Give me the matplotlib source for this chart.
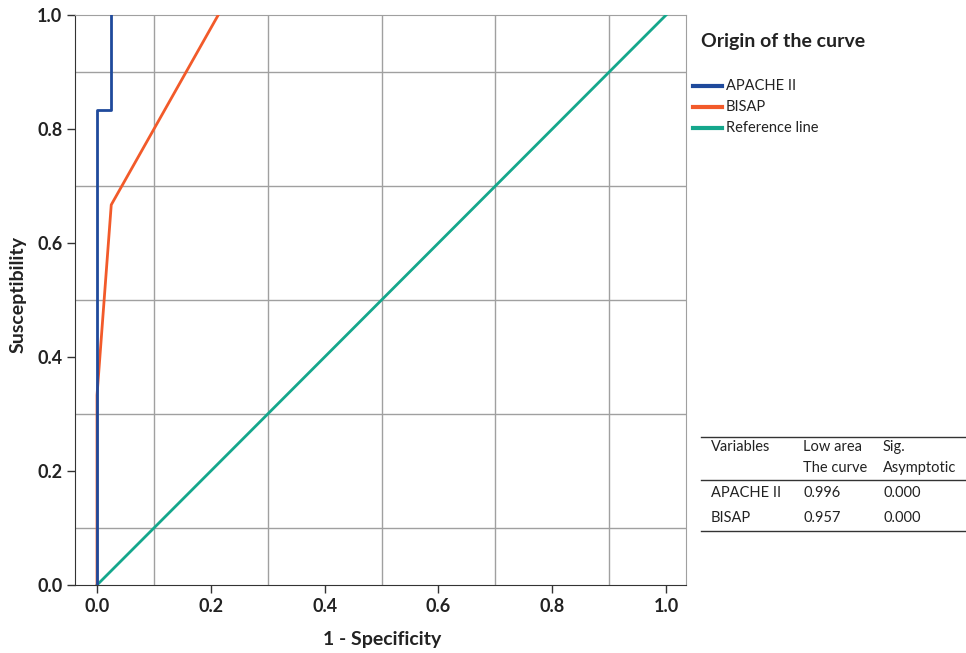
import numpy as np
import matplotlib.pyplot as plt
from matplotlib.lines import Line2D

plt.rcParams['font.family'] = ['Lato', 'DejaVu Sans']

# ROC curve data
apache_x = [0.0, 0.0, 0.025, 0.025]
apache_y = [0.0, 0.833, 0.833, 1.0]
bisap_x = [0.0, 0.0, 0.025, 0.213]
bisap_y = [0.0, 0.333, 0.667, 1.0]
ref_x = [0.0, 1.0]
ref_y = [0.0, 1.0]

legend_labels = ['APACHE II', 'BISAP', 'Reference line']
colors = ['#1f4a9c', '#f25a2a', '#15a78c']

table_header = [['Variables', 'Low area', 'Sig.'], ['', 'The curve', 'Asymptotic']]
table_rows = [['APACHE II', '0.996', '0.000'], ['BISAP', '0.957', '0.000']]

W, H = 966, 653
fig = plt.figure(figsize=(W / 100, H / 100), dpi=100)
ax = fig.add_axes([75 / W, 1 - 585 / H, (686 - 75) / W, (585 - 15) / H])

ax.plot(ref_x, ref_y, color=colors[2], lw=2, zorder=3)
ax.plot(bisap_x, bisap_y, color=colors[1], lw=2, zorder=4)
ax.plot(apache_x, apache_y, color=colors[0], lw=2, zorder=5)

ax.set_xlim(-0.0387, 1.035)
ax.set_ylim(0, 1)
ax.set_xticks(np.arange(0, 1.01, 0.2))
ax.set_yticks(np.arange(0, 1.01, 0.2))
ax.set_xticks(np.arange(0.1, 1.0, 0.2), minor=True)
ax.set_yticks(np.arange(0.1, 1.0, 0.2), minor=True)
ax.grid(which='minor', color='#a0a0a0', lw=1)
ax.tick_params(which='minor', length=0)
ax.tick_params(which='major', length=6, width=1, color='#333333', labelsize=13, pad=3)
for lab in ax.get_xticklabels() + ax.get_yticklabels():
    lab.set_fontweight('bold')
    lab.set_color('#222222')
ax.xaxis.set_major_formatter(plt.FuncFormatter(lambda v, p: f'{v:.1f}'))
ax.yaxis.set_major_formatter(plt.FuncFormatter(lambda v, p: f'{v:.1f}'))
ax.spines['left'].set_color('#333333')
ax.spines['bottom'].set_color('#333333')
ax.spines['top'].set_color('#a0a0a0')
ax.spines['right'].set_color('#a0a0a0')

fig.text(382 / W, 1 - 640 / H, '1 - Specificity', ha='center', va='center',
         fontsize=14, fontweight='bold', color='#222222')
fig.text(18 / W, 1 - 295 / H, 'Susceptibility', ha='center', va='center',
         rotation=90, fontsize=14, fontweight='bold', color='#222222')

# legend
fig.text(701 / W, 1 - 42 / H, 'Origin of the curve', ha='left', va='center',
         fontsize=14, fontweight='bold', color='#222222')
for i, (lab, c) in enumerate(zip(legend_labels, colors)):
    y = 1 - (86 + i * 21) / H
    fig.add_artist(Line2D([693 / W, 722 / W], [y, y], color=c, lw=3))
    fig.text(726 / W, y, lab, ha='left', va='center', fontsize=10.5, color='#222222')

# table
col_x = [711, 803, 883]
for yy in [437, 480, 531]:
    fig.add_artist(Line2D([701 / W, 966 / W], [1 - yy / H, 1 - yy / H], color='#333333', lw=1))
for r, row in enumerate(table_header):
    for cx, txt in zip(col_x, row):
        fig.text(cx / W, 1 - (447 + r * 21) / H, txt, ha='left', va='center',
                 fontsize=10.5, color='#222222')
for r, row in enumerate(table_rows):
    for cx, txt in zip(col_x, row):
        fig.text(cx / W, 1 - (493 + r * 25) / H, txt, ha='left', va='center',
                 fontsize=10.5, color='#222222')

fig.savefig('out.png', dpi=100)
